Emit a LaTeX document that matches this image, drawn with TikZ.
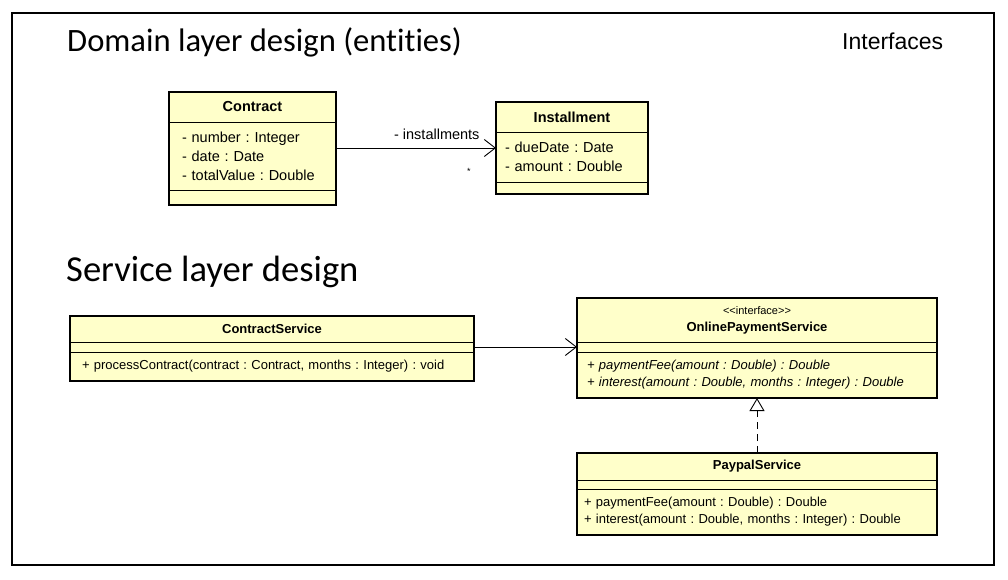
\documentclass[tikz,border=0pt]{standalone}
\usepackage{fontspec}
\setmainfont{Liberation Sans}
\newfontfamily\headfont[Ligatures=NoCommon]{Carlito}
\usepackage{tikz}
\usetikzlibrary{shapes,arrows,arrows.meta,positioning}
\definecolor{umlyellow}{RGB}{255,255,202}
\newcommand{\domfont}{\fontsize{14.5}{19}\selectfont}
\newcommand{\srvfont}{\fontsize{13}{17}\selectfont}
\tikzstyle{part} = [rectangle, draw, fill=umlyellow, line width=0.7pt,
    inner sep=0pt, outer sep=0pt]
\tikzstyle{title} = [part, align=center, font=\bfseries]
\tikzstyle{members} = [part, align=left]
\tikzstyle{classframe} = [draw, line width=2.6pt]
\tikzstyle{heading} = [anchor=base west, inner sep=0pt]
\tikzstyle{link} = [line width=0.8pt]
\frenchspacing

\begin{document}
\begin{tikzpicture}[x=1pt, y=-1pt]
		\useasboundingbox (0,0) rectangle (1008,580);
		\draw [line width=1.6pt] (12,13) rectangle (994,565);
		
		% headings
		\node [heading, font=\headfont\fontsize{32.6}{36}\selectfont] (domainhead) at (67,52) {Domain layer design (entities)};
		\node [heading, font=\fontsize{23}{26}\selectfont] (ifacehead) at (842,50) {Interfaces};
		\node [heading, font=\headfont\fontsize{36.6}{40}\selectfont] (servicehead) at (66,281) {Service layer design};
		
		% domain layer
		\node [title, font=\domfont\bfseries, minimum width=167pt, minimum height=30pt] (contract) at (252.5,107) {Contract};
		\node [members, font=\domfont, below=0pt of contract, text width=141pt, inner xsep=13pt, minimum height=68pt] (contract-attr) {- number : Integer\\ - date : Date\\ - totalValue : Double};
		\node [part, below=0pt of contract-attr, minimum width=167pt, minimum height=15pt] (contract-ops) {};
		
		\node [title, font=\domfont\bfseries, minimum width=152pt, minimum height=30pt] (installment) at (572,117) {Installment};
		\node [members, font=\domfont, below=0pt of installment, text width=134pt, inner xsep=9pt, minimum height=50pt] (installment-attr) {- dueDate : Date\\ - amount : Double};
		\node [part, below=0pt of installment-attr, minimum width=152pt, minimum height=12pt] (installment-ops) {};
		
		% service layer
		\node [title, font=\srvfont\bfseries, minimum width=404pt, minimum height=26pt] (cservice) at (272,329) {ContractService};
		\node [part, below=0pt of cservice, minimum width=404pt, minimum height=10pt] (cservice-attr) {};
		\node [members, font=\srvfont, below=0pt of cservice-attr, text width=380pt, inner xsep=12pt, minimum height=29pt] (cservice-ops) {+ processContract(contract : Contract, months : Integer) : void};
		
		\node [title, font=\srvfont\bfseries, minimum width=360pt, minimum height=44pt] (payment) at (757,320) {{\mdseries\fontsize{11}{14}\selectfont <{}<interface>{}>}\\ OnlinePaymentService};
		\node [part, below=0pt of payment, minimum width=360pt, minimum height=10pt] (payment-attr) {};
		\node [members, font=\srvfont\itshape, below=0pt of payment-attr, text width=340pt, inner xsep=10pt, minimum height=46pt] (payment-ops) {+ paymentFee(amount : Double) : Double\\ + interest(amount : Double, months : Integer) : Double};
		
		\node [title, font=\srvfont\bfseries, minimum width=360pt, minimum height=27pt] (paypal) at (757,466.5) {PaypalService};
		\node [part, below=0pt of paypal, minimum width=360pt, minimum height=9pt] (paypal-attr) {};
		\node [members, font=\srvfont, below=0pt of paypal-attr, text width=346pt, inner xsep=7pt, minimum height=46pt] (paypal-ops) {+ paymentFee(amount : Double) : Double\\ + interest(amount : Double, months : Integer) : Double};
		
		\draw [classframe] (contract.north west) rectangle (contract-ops.south east);
		\draw [classframe] (installment.north west) rectangle (installment-ops.south east);
		\draw [classframe] (cservice.north west) rectangle (cservice-ops.south east);
		\draw [classframe] (payment.north west) rectangle (payment-ops.south east);
		\draw [classframe] (paypal.north west) rectangle (paypal-ops.south east);
		
		% connectors
		\coordinate (assoc) at ([yshift=8pt]contract-attr.east);
		\draw [link, -{Straight Barb[length=11pt, width=17pt, line width=0.9pt]}] (assoc) -- node [pos=0.63, above=5pt, font=\domfont] {- installments} node [pos=0.83, below=17pt, font=\fontsize{9}{10}\selectfont] {*} (assoc -| installment-attr.west);
		\draw [link, -{Straight Barb[length=11pt, width=17pt, line width=0.9pt]}] (cservice-attr.east) -- (payment-attr.west);
		\draw [link, dash pattern=on 7pt off 5pt, -{Triangle[open, length=13pt, width=15pt, line width=0.9pt, fill=white]}] (paypal.north) -- (payment-ops.south);
		
		\end{tikzpicture}
\end{document}
